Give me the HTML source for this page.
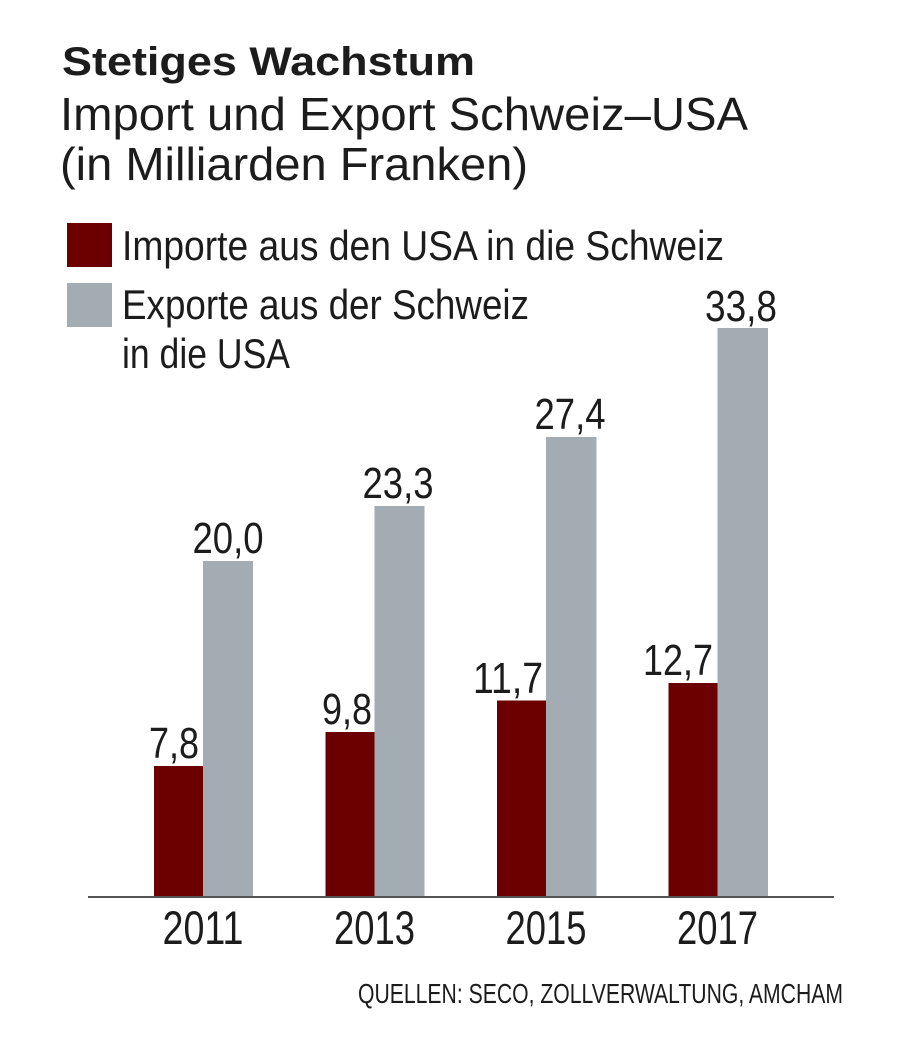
<!DOCTYPE html>
<html><head><meta charset="utf-8"><style>
html,body{margin:0;padding:0;background:#fff;}
svg{display:block;}
text{font-family:"Liberation Sans",sans-serif;fill:#1c1c1c;}
</style></head><body>
<svg width="900" height="1042" viewBox="0 0 900 1042" xmlns="http://www.w3.org/2000/svg">
<rect width="900" height="1042" fill="#fff"/>
<text x="62" y="75" font-size="40" font-weight="bold" fill="#111" textLength="413" lengthAdjust="spacingAndGlyphs">Stetiges Wachstum</text>
<text x="60" y="130" font-size="46" fill="#262626" textLength="688" lengthAdjust="spacingAndGlyphs">Import und Export Schweiz–USA</text>
<text x="60" y="180" font-size="46" fill="#262626" textLength="468" lengthAdjust="spacingAndGlyphs">(in Milliarden Franken)</text>
<rect x="67" y="223" width="45" height="44" fill="#6c0000"/>
<rect x="67" y="283" width="45" height="44" fill="#a3abb3"/>
<text x="122" y="260" font-size="42" textLength="602" lengthAdjust="spacingAndGlyphs">Importe aus den USA in die Schweiz</text>
<text x="122" y="319" font-size="42" textLength="407" lengthAdjust="spacingAndGlyphs">Exporte aus der Schweiz</text>
<text x="122" y="368" font-size="42" textLength="168" lengthAdjust="spacingAndGlyphs">in die USA</text>
<!-- bars -->
<g fill="#6c0000">
<rect x="154" y="766" width="49" height="131"/>
<rect x="325.5" y="732" width="49" height="165"/>
<rect x="497" y="700.5" width="49" height="196.5"/>
<rect x="668.5" y="683" width="49" height="214"/>
</g>
<g fill="#a3abb3">
<rect x="203" y="561" width="50" height="336"/>
<rect x="374.5" y="506" width="50" height="391"/>
<rect x="546" y="437" width="50.5" height="460"/>
<rect x="717.5" y="328" width="50.5" height="569"/>
</g>
<line x1="88" y1="897" x2="834" y2="897" stroke="#555" stroke-width="2"/>
<!-- value labels -->
<g font-size="44">
<text x="199" y="758" text-anchor="end" textLength="50" lengthAdjust="spacingAndGlyphs">7,8</text>
<text x="372" y="724" text-anchor="end" textLength="50" lengthAdjust="spacingAndGlyphs">9,8</text>
<text x="543" y="693" text-anchor="end" textLength="70" lengthAdjust="spacingAndGlyphs">11,7</text>
<text x="713" y="675" text-anchor="end" textLength="70" lengthAdjust="spacingAndGlyphs">12,7</text>
<text x="228" y="553" text-anchor="middle" textLength="71" lengthAdjust="spacingAndGlyphs">20,0</text>
<text x="398" y="498" text-anchor="middle" textLength="71" lengthAdjust="spacingAndGlyphs">23,3</text>
<text x="570" y="429" text-anchor="middle" textLength="71" lengthAdjust="spacingAndGlyphs">27,4</text>
<text x="741" y="321" text-anchor="middle" textLength="72" lengthAdjust="spacingAndGlyphs">33,8</text>
</g>
<!-- year labels -->
<g font-size="47">
<text x="203" y="944" text-anchor="middle" textLength="81" lengthAdjust="spacingAndGlyphs">2011</text>
<text x="374.5" y="944" text-anchor="middle" textLength="81" lengthAdjust="spacingAndGlyphs">2013</text>
<text x="546" y="944" text-anchor="middle" textLength="81" lengthAdjust="spacingAndGlyphs">2015</text>
<text x="717.5" y="944" text-anchor="middle" textLength="81" lengthAdjust="spacingAndGlyphs">2017</text>
</g>
<text x="358" y="1003" font-size="28" fill="#4a4a4a" textLength="485" lengthAdjust="spacingAndGlyphs">QUELLEN: SECO, ZOLLVERWALTUNG, AMCHAM</text>
</svg>
</body></html>
